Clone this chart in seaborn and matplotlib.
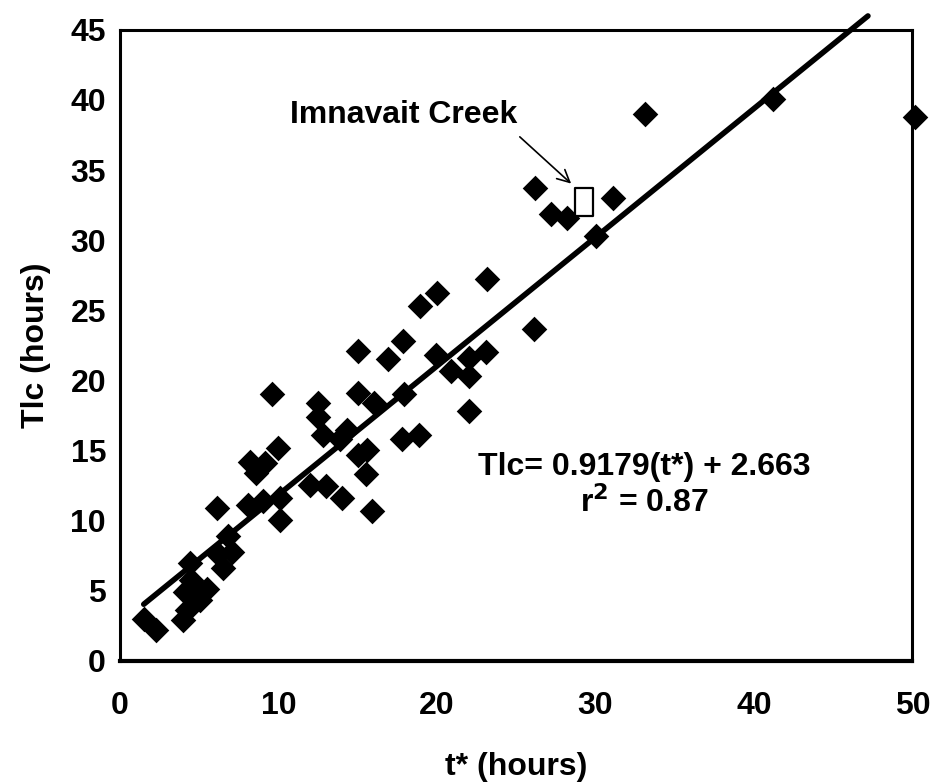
import matplotlib
matplotlib.use("Agg")
import matplotlib.pyplot as plt
import seaborn as sns
import numpy as np
import pandas as pd

# ---- data ----
t_star = [1.5, 2.3, 4.0, 4.2, 4.1, 4.8, 4.5, 5.5, 5.05, 4.4, 6.5, 7.05, 6.8, 6.2, 6.1,
          8.1, 9.05, 10.1, 10.1, 12.0, 8.2, 8.6, 9.15, 10.0, 9.6,
          12.5, 12.5, 12.8, 13.0, 14.0, 14.3, 13.9, 15.05, 15.05, 15.6, 15.5, 15.9, 16.0,
          15.05, 16.9, 17.85, 17.8, 17.9, 18.9, 18.94, 20.0, 19.95, 20.9, 22.0, 22.0,
          22.0, 23.1, 23.15, 26.1, 26.2, 27.2, 28.2, 30.05, 31.1, 33.1, 41.2, 50.2]
tlc = [3.0, 2.2, 2.9, 3.6, 4.9, 5.3, 5.8, 5.1, 4.35, 7.0, 6.6, 7.8, 8.9, 7.6, 10.9,
       11.1, 11.4, 11.6, 10.06, 12.55, 14.2, 13.4, 14.1, 15.2, 19.0,
       18.4, 17.4, 16.1, 12.5, 11.6, 16.5, 15.8, 14.7, 19.1, 15.05, 13.3, 10.7, 18.4,
       22.1, 21.5, 22.8, 15.8, 19.0, 16.1, 25.3, 26.2, 21.8, 20.7, 21.6, 20.3,
       17.8, 22.0, 27.2, 23.7, 33.7, 31.9, 31.6, 30.3, 33.0, 39.0, 40.1, 38.8]

imnavait_t = [29.25]
imnavait_tlc = [32.7]

fit_slope = 0.9179
fit_intercept = 2.663
fit_x_range = [1.5, 47.2]

x_ticks = [0, 10, 20, 30, 40, 50]
y_ticks = [0, 5, 10, 15, 20, 25, 30, 35, 40, 45]

# ---- plotting ----
sns.set_theme(style="white")
plt.rcParams['font.family'] = ['Liberation Sans Narrow', 'Liberation Sans', 'DejaVu Sans']
plt.rcParams['font.weight'] = 'bold'
plt.rcParams['text.color'] = 'black'
plt.rcParams['axes.labelcolor'] = 'black'
plt.rcParams['xtick.color'] = 'black'
plt.rcParams['ytick.color'] = 'black'

fig = plt.figure(figsize=(9.3, 7.84), dpi=100)
ax = fig.add_axes([0.129, 0.157, 0.852, 0.805])

df = pd.DataFrame({"t": t_star, "tlc": tlc})
sns.scatterplot(data=df, x="t", y="tlc", marker="D", s=170, color="black",
                edgecolor="black", linewidth=0, ax=ax, zorder=3, clip_on=False)

fx = np.array(fit_x_range)
fline = pd.DataFrame({"t": fx, "tlc": fit_slope * fx + fit_intercept})
sns.lineplot(data=fline, x="t", y="tlc", color="black", linewidth=4, ax=ax,
             zorder=2, clip_on=False)

rect_marker = [(-0.5, -0.8), (0.5, -0.8), (0.5, 0.8), (-0.5, 0.8), (-0.5, -0.8)]
dfi = pd.DataFrame({"t": imnavait_t, "tlc": imnavait_tlc})
sns.scatterplot(data=dfi, x="t", y="tlc", marker=rect_marker, s=420,
                facecolor="white", edgecolor="black", linewidth=1.6, ax=ax, zorder=4)

ax.set_xlim(0, 50)
ax.set_ylim(0, 45)
ax.set_xticks(x_ticks)
ax.set_yticks(y_ticks)
ax.tick_params(axis='both', direction='inout', length=12, width=1.2,
               labelsize=23, colors='black')
ax.tick_params(axis='x', pad=16)
ax.tick_params(axis='y', pad=4)
for lab in ax.get_xticklabels() + ax.get_yticklabels():
    lab.set_fontweight('bold')
    lab.set_color('black')

for side, sp in ax.spines.items():
    sp.set_visible(True)
    sp.set_color('black')
    sp.set_linewidth(2.2)
ax.spines['bottom'].set_linewidth(3)

ax.set_xlabel("t* (hours)", fontsize=23, fontweight='bold', labelpad=22, color='black')
ax.set_ylabel("Tlc (hours)", fontsize=23, fontweight='bold', labelpad=14, color='black')

ax.text(17.9, 38.9, "Imnavait Creek", fontsize=23, fontweight='bold',
        ha='center', va='center', color='black')
ax.annotate("", xy=(28.6, 33.9), xytext=(25.1, 37.5),
            arrowprops=dict(arrowstyle="->", color="black", lw=1.2,
                            mutation_scale=22))
ax.text(33.1, 13.8, "Tlc= 0.9179(t*) + 2.663", fontsize=23, fontweight='bold',
        ha='center', va='center', color='black')
ax.text(33.1, 11.3, r"r$^{\mathbf{2}}$ = 0.87", fontsize=23, fontweight='bold',
        ha='center', va='center', color='black')

fig.savefig("out.png", dpi=100)
